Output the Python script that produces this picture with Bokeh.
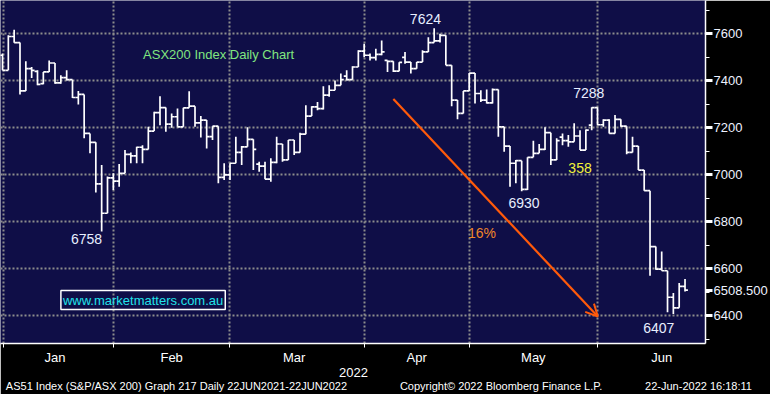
from bokeh.plotting import figure
from bokeh.models import (Range1d, FixedTicker, Label, Arrow, OpenHead, ColumnDataSource,
                          LinearAxis)
from bokeh.embed import file_html
from bokeh.resources import INLINE

# ---- data: ASX200 daily OHLC (trading-day index 0..117) ----
opens = [7509, 7445, 7589, 7563, 7357, 7452, 7440, 7388, 7438, 7476,
         7391, 7414, 7405, 7329, 7342, 7176, 7138, 6961, 6836, 6987,
         6973, 7006, 7087, 7080, 7117, 7108, 7186, 7265, 7286, 7216,
         7247, 7204, 7285, 7292, 7221, 7233, 7162, 7207, 6989, 6999,
         7049, 7095, 7119, 7151, 7045, 7037, 6981, 7053, 7131, 7063,
         7148, 7095, 7173, 7250, 7289, 7282, 7339, 7360, 7381, 7420,
         7405, 7459, 7527, 7509, 7499, 7513, 7487, 7483, 7441, 7500,
         7480, 7452, 7480, 7523, 7563, 7570, 7594, 7466, 7318, 7261,
         7357, 7433, 7346, 7318, 7306, 7363, 7204, 7122, 7049, 7060,
         6938, 7074, 7091, 7108, 7179, 7063, 7160, 7145, 7140, 7165,
         7105, 7211, 7286, 7213, 7233, 7176, 7236, 7207, 7095, 7122,
         7020, 6932, 6694, 6598, 6591, 6478, 6433, 6524]
highs = [7517, 7594, 7618, 7563, 7483, 7459, 7445, 7438, 7487, 7476,
         7424, 7445, 7405, 7357, 7342, 7176, 7138, 7041, 6992, 7006,
         7046, 7105, 7095, 7119, 7126, 7204, 7268, 7334, 7286, 7261,
         7282, 7285, 7356, 7292, 7250, 7233, 7207, 7207, 7049, 7049,
         7162, 7122, 7202, 7151, 7055, 7055, 7070, 7162, 7131, 7148,
         7148, 7179, 7296, 7292, 7310, 7377, 7381, 7402, 7431, 7445,
         7462, 7530, 7558, 7516, 7537, 7572, 7487, 7483, 7479, 7523,
         7480, 7480, 7530, 7586, 7624, 7601, 7594, 7466, 7318, 7357,
         7433, 7433, 7360, 7363, 7367, 7363, 7204, 7122, 7063, 7060,
         7074, 7145, 7131, 7202, 7179, 7155, 7176, 7169, 7219, 7190,
         7193, 7288, 7288, 7236, 7236, 7254, 7236, 7207, 7162, 7122,
         7020, 6932, 6694, 6673, 6591, 6496, 6539, 6556]
lows = [7445, 7445, 7562, 7342, 7357, 7412, 7381, 7385, 7438, 7388,
        7388, 7402, 7327, 7299, 7155, 7091, 6924, 6758, 6836, 6935,
        6949, 7006, 7049, 7049, 7049, 7108, 7186, 7211, 7183, 7200,
        7204, 7204, 7285, 7204, 7159, 7112, 7148, 6964, 6978, 6978,
        7049, 7041, 7119, 7020, 7013, 6981, 6970, 7049, 7055, 7063,
        7084, 7095, 7173, 7250, 7275, 7278, 7332, 7360, 7381, 7402,
        7405, 7459, 7501, 7487, 7487, 7509, 7438, 7438, 7441, 7473,
        7431, 7452, 7480, 7523, 7563, 7563, 7466, 7292, 7236, 7261,
        7357, 7303, 7310, 7303, 7303, 7162, 7098, 6949, 6964, 6930,
        6935, 7074, 7091, 7105, 7041, 7063, 7126, 7119, 7140, 7105,
        7105, 7190, 7211, 7204, 7176, 7176, 7204, 7087, 7095, 7020,
        6932, 6570, 6595, 6591, 6414, 6407, 6433, 6503]
closes = [7445, 7589, 7563, 7357, 7452, 7445, 7385, 7438, 7476, 7391,
          7414, 7405, 7329, 7342, 7176, 7138, 6961, 6836, 6987, 6973,
          7006, 7087, 7080, 7117, 7108, 7186, 7265, 7286, 7216, 7247,
          7204, 7285, 7292, 7221, 7233, 7162, 7207, 6989, 6999, 7049,
          7095, 7119, 7151, 7108, 7037, 6981, 7053, 7131, 7063, 7148,
          7095, 7173, 7250, 7289, 7282, 7339, 7360, 7381, 7405, 7405,
          7459, 7527, 7509, 7499, 7513, 7523, 7483, 7441, 7479, 7480,
          7452, 7480, 7523, 7563, 7570, 7594, 7466, 7318, 7261, 7357,
          7433, 7346, 7318, 7306, 7363, 7204, 7122, 7049, 7060, 6938,
          7074, 7091, 7108, 7179, 7063, 7145, 7145, 7140, 7165, 7105,
          7190, 7286, 7213, 7233, 7176, 7236, 7207, 7095, 7122, 7020,
          6932, 6694, 6598, 6591, 6478, 6433, 6524, 6508.5]
days = list(range(len(closes)))

month_names = ["Jan", "Feb", "Mar", "Apr", "May", "Jun"]
month_start_day = [0.17, 18.97, 38.97, 62.05, 80.0, 102.05]   # month boundaries (trading-day index)
month_label_day = [9, 29, 50, 71, 91, 113]                     # where month names sit
price_ticks = [6400, 6600, 6800, 7000, 7200, 7400, 7600]
price_minor = [6300, 6500, 6700, 6900, 7100, 7300, 7500, 7700]
last_price = 6508.5
last_price_text = "6508.500"
year_text = "2022"
footer_texts = ["AS51 Index (S&P/ASX 200) Graph 217  Daily 22JUN2021-22JUN2022",
                "Copyright\u00a9 2022 Bloomberg Finance L.P.",
                "22-Jun-2022 16:18:11"]

# annotations: (text, day, price)
peak_labels = [("7624", 72.5, 7662), ("7288", 100.5, 7347), ("6758", 14.4, 6727),
               ("6930", 89.4, 6880), ("6407", 112.5, 6349)]
arrow_from = (67.0, 7323)
arrow_to = (102.05, 6396)

NAVY = "#0f0e47"
FONT = "Liberation Sans"

p = figure(width=770, height=394, x_range=Range1d(-0.342, 120.51), y_range=Range1d(6281, 7742.3),
           y_axis_location="right", output_backend="svg", toolbar_location=None,
           min_border_left=0, min_border_top=0, min_border_right=63, min_border_bottom=50,
           background_fill_color=NAVY, border_fill_color="black", outline_line_color=None)
# a pixel-unit range across the plot width, for the texts under the axis
p.extra_x_ranges = {"px": Range1d(0, 707)}

# grids
p.xgrid.ticker = FixedTicker(ticks=month_start_day)
p.ygrid.ticker = FixedTicker(ticks=price_ticks)
for g in (p.xgrid, p.ygrid):
    g.grid_line_color = "#8c8c8c"
    g.grid_line_dash = "2 2"
    g.grid_line_width = 2

# right axis (prices + last price)
ya = p.yaxis[0]
ya.ticker = FixedTicker(ticks=price_ticks + [last_price], minor_ticks=price_minor)
ya.major_label_overrides = {last_price: last_price_text}
ya.axis_line_color = "white"
ya.axis_line_width = 1.5
ya.major_tick_line_color = "white"
ya.major_tick_line_width = 3
ya.major_tick_out = 7
ya.major_tick_in = 0
ya.minor_tick_line_color = "white"
ya.minor_tick_out = 4
ya.minor_tick_in = 0
ya.major_label_text_color = "#eef2ff"
ya.major_label_text_font = FONT
ya.major_label_text_font_size = "13px"
ya.major_label_standoff = 1

# bottom axis: month names
xa = p.xaxis[0]
xa.ticker = FixedTicker(ticks=month_label_day, minor_ticks=month_start_day)
xa.major_label_overrides = {d: n for d, n in zip(month_label_day, month_names)}
xa.axis_line_color = "white"
xa.axis_line_width = 1.5
xa.major_tick_line_color = None
xa.major_tick_out = 0
xa.major_tick_in = 0
xa.minor_tick_line_color = "white"
xa.minor_tick_out = 4
xa.minor_tick_in = 0
xa.major_label_text_color = "white"
xa.major_label_text_font = FONT
xa.major_label_text_font_size = "13px"
xa.major_label_standoff = 2


def text_axis(ticks, labels, size, standoff):
    ax = LinearAxis(x_range_name="px", ticker=FixedTicker(ticks=ticks, minor_ticks=[]),
                    major_label_overrides={t: s for t, s in zip(ticks, labels)})
    ax.axis_line_color = None
    ax.major_tick_line_color = None
    ax.minor_tick_line_color = None
    ax.major_tick_out = 0
    ax.major_tick_in = 0
    ax.minor_tick_out = 0
    ax.minor_tick_in = 0
    ax.major_label_text_color = "white"
    ax.major_label_text_font = FONT
    ax.major_label_text_font_size = size
    ax.major_label_standoff = standoff
    return ax


p.add_layout(text_axis([354], [year_text], "13px", 0), "below")
p.add_layout(text_axis([178, 502, 700], footer_texts, "11px", 0), "below")

# OHLC bars
src = ColumnDataSource(dict(
    d=days, o=opens, h=highs, l=lows, c=closes,
    dl=[d - 0.5 for d in days], dr=[d + 0.5 for d in days]))
p.segment(x0="d", y0="l", x1="d", y1="h", source=src, line_color="white", line_width=1.7)
p.segment(x0="dl", y0="o", x1="d", y1="o", source=src, line_color="white", line_width=1.7)
p.segment(x0="d", y0="c", x1="dr", y1="c", source=src, line_color="white", line_width=1.7)

# orange decline arrow
p.add_layout(Arrow(end=OpenHead(size=12, line_color="#ff5a0a", line_width=2),
                   x_start=arrow_from[0], y_start=arrow_from[1],
                   x_end=arrow_to[0], y_end=arrow_to[1],
                   line_color="#ff5a0a", line_width=2.2))

for txt, d, v in peak_labels:
    p.add_layout(Label(x=d, y=v, text=txt, text_align="center", text_baseline="middle",
                       text_color="#e8eeff", text_font=FONT, text_font_size="14px"))

p.add_layout(Label(x=99.0, y=7029, text="358", text_align="center", text_baseline="middle",
                   text_color="#f2f23a", text_font=FONT, text_font_size="14px"))
p.add_layout(Label(x=82.2, y=6752, text="16%", text_align="center", text_baseline="middle",
                   text_color="#f0862a", text_font=FONT, text_font_size="14px"))
p.add_layout(Label(x=24.1, y=7513, text="ASX200 Index Daily Chart", text_align="left",
                   text_baseline="middle", text_color="#80e680", text_font=FONT,
                   text_font_size="13px"))
p.add_layout(Label(x=24.1, y=6466, text="www.marketmatters.com.au", text_align="center",
                   text_baseline="middle", text_color="#22e2ea", text_font=FONT,
                   text_font_size="13px", border_line_color="white", border_line_width=1.5,
                   padding=2))

open("out.html", "w").write(file_html(p, INLINE))
